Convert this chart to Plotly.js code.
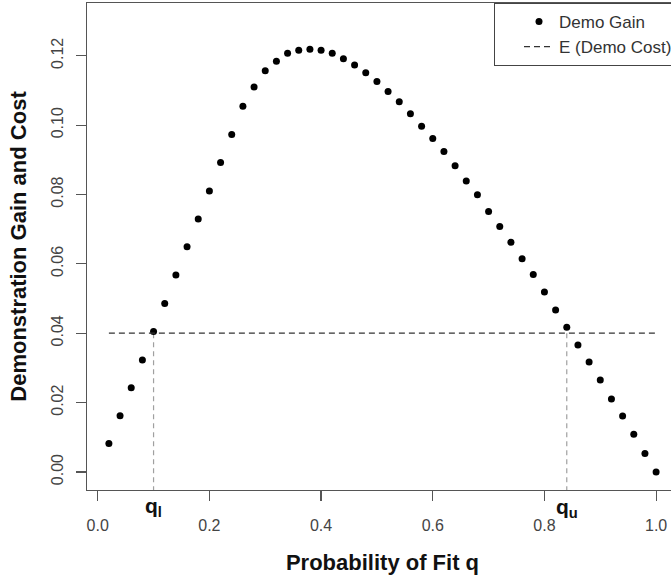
<!DOCTYPE html>
<html>
<head>
<meta charset="utf-8">
<script src="https://cdn.plot.ly/plotly-3.0.1.min.js"></script>
<style>
  html, body { margin: 0; padding: 0; overflow: hidden; background: #fff; }
  #wrap { width: 671px; height: 577px; overflow: hidden; }
  #chart { width: 690px; height: 577px; }
</style>
</head>
<body>
<div id="wrap"><div id="chart"></div></div>
<script>
// Probability of fit q
const qValues = [0.02,0.04,0.06,0.08,0.10,0.12,0.14,0.16,0.18,0.20,
                 0.22,0.24,0.26,0.28,0.30,0.32,0.34,0.36,0.38,0.40,
                 0.42,0.44,0.46,0.48,0.50,0.52,0.54,0.56,0.58,0.60,
                 0.62,0.64,0.66,0.68,0.70,0.72,0.74,0.76,0.78,0.80,
                 0.82,0.84,0.86,0.88,0.90,0.92,0.94,0.96,0.98,1.00];
// Demo Gain
const demoGain = [0.0082,0.0162,0.0243,0.0323,0.0405,0.0486,0.0568,0.0649,0.0729,0.0810,
                  0.0892,0.0973,0.1054,0.1110,0.1157,0.1184,0.1207,0.1216,0.1219,0.1216,
                  0.1207,0.1191,0.1173,0.1151,0.1126,0.1097,0.1067,0.1033,0.0997,0.0961,
                  0.0924,0.0883,0.0839,0.0799,0.0751,0.0708,0.0662,0.0615,0.0569,0.0519,
                  0.0467,0.0417,0.0366,0.0317,0.0265,0.0210,0.0161,0.0109,0.0053,0.0000];
// Expected demo cost and the crossing points
const demoCost = 0.04;
const costX = [0.02, 1.00];
const qLower = 0.10;
const qUpper = 0.84;
// Axis ticks
const xTickVals = [0, 0.2, 0.4, 0.6, 0.8, 1.0];
const xTickText = ['0.0', '0.2', '0.4', '0.6', '0.8', '1.0'];
const yTickVals = [0, 0.02, 0.04, 0.06, 0.08, 0.10, 0.12];
const yTickText = ['0.00', '0.02', '0.04', '0.06', '0.08', '0.10', '0.12'];
const xRange = [-0.0192, 1.0392];
const yRange = [-0.0052, 0.1352];

const FONT = 'Liberation Sans, Arial, Helvetica, sans-serif';

const traces = [
  {
    x: [qLower, qLower], y: [demoCost, yRange[0]],
    mode: 'lines', line: {color: '#a0a0a0', width: 1.2, dash: '5px,4px'},
    showlegend: false, hoverinfo: 'skip', cliponaxis: false
  },
  {
    x: [qUpper, qUpper], y: [demoCost, yRange[0]],
    mode: 'lines', line: {color: '#a0a0a0', width: 1.2, dash: '5px,4px'},
    showlegend: false, hoverinfo: 'skip', cliponaxis: false
  },
  {
    x: qValues, y: demoGain, name: 'Demo Gain',
    mode: 'markers', marker: {color: '#000', size: 7, symbol: 'circle'}
  },
  {
    x: costX, y: [demoCost, demoCost], name: 'E (Demo Cost)',
    mode: 'lines', line: {color: '#333', width: 1.3, dash: '6px,4px'}
  }
];

const layout = {
  width: 690, height: 577,
  margin: {l: 87, r: 12, t: 3, b: 87},
  paper_bgcolor: '#fff', plot_bgcolor: '#fff',
  font: {family: FONT, color: '#333', size: 16},
  showlegend: true,
  legend: {
    x: 1, xanchor: 'right', y: 1, yanchor: 'top',
    bgcolor: '#fff', bordercolor: '#444', borderwidth: 1,
    font: {family: FONT, size: 17, color: '#333'},
    indentation: 24, itemclick: false
  },
  xaxis: {
    range: xRange, autorange: false,
    tickvals: xTickVals, ticktext: xTickText,
    ticks: 'outside', ticklen: 10, tickwidth: 1.2, tickcolor: '#555',
    showline: true, linecolor: '#555', linewidth: 1.3, mirror: true,
    showgrid: false, zeroline: false,
    tickfont: {family: FONT, size: 16, color: '#444'},
    ticklabelstandoff: 10,
    title: {text: '<b>Probability of Fit q</b>', font: {family: FONT, size: 22, color: '#111'}, standoff: 22}
  },
  yaxis: {
    range: yRange, autorange: false,
    tickvals: yTickVals, ticktext: yTickText,
    ticks: 'outside', ticklen: 10, tickwidth: 1.2, tickcolor: '#555',
    tickangle: -90,
    showline: true, linecolor: '#555', linewidth: 1.3, mirror: true,
    showgrid: false, zeroline: false,
    tickfont: {family: FONT, size: 16, color: '#444'},
    ticklabelstandoff: 6,
    title: {text: '<b>Demonstration Gain and Cost</b>', font: {family: FONT, size: 22, color: '#111'}, standoff: 16}
  },
  annotations: [
    {x: qLower, xref: 'x', y: -0.034, yref: 'paper', text: '<b>q<sub>l</sub></b>', showarrow: false,
     xanchor: 'center', yanchor: 'middle', font: {family: FONT, size: 21, color: '#111'}},
    {x: qUpper, xref: 'x', y: -0.036, yref: 'paper', text: '<b>q<sub>u</sub></b>', showarrow: false,
     xanchor: 'center', yanchor: 'middle', font: {family: FONT, size: 21, color: '#111'}}
  ]
};

Plotly.newPlot('chart', traces, layout, {displayModeBar: false, staticPlot: true});
</script>
</body>
</html>
